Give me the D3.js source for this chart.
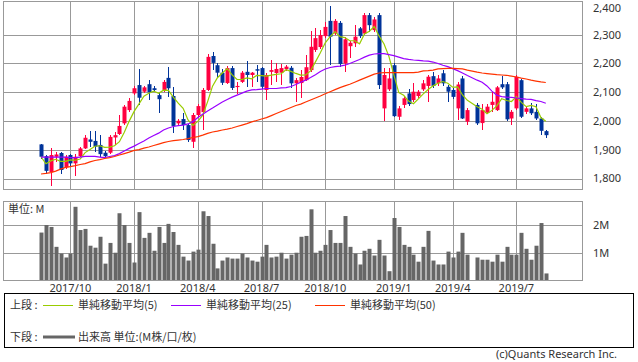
<!DOCTYPE html>
<html>
<head>
<meta charset="utf-8">
<script src="https://cdn.jsdelivr.net/npm/d3@7"></script>
<style>
body{margin:0;background:#fff;}
svg{display:block;}
text{font-family:"Noto Sans CJK JP","Noto Sans",sans-serif;font-size:11px;fill:#333;}
text.num{font-family:"Noto Sans","DejaVu Sans",sans-serif;}
</style>
</head>
<body>
<svg width="638" height="362"></svg>
<script>
// weekly bars, first week starts Monday 2017-08-21; null = week with no trading (GW 2019)
var firstWeek = "2017-08-21";

var opens = [1919,1878,1823,1876,1889,1839,1882,1853,1878,1905,1936,1931,1917,1890,1890,1943,1955,1992,2038,2096,
2125,2102,2128,2114,2090,2108,2150,2087,1992,2007,1986,1928,2021,2031,2108,2226,2194,2168,2132,2184,
2118,2136,2171,2160,2180,2184,2108,2171,2167,2168,2180,2185,2131,2132,2142,2177,2247,2257,2295,2348,
2304,2341,2200,2260,2270,2322,2304,2368,2316,2368,2044,2110,2194,2015,2056,2096,2073,2087,2110,2122,
2156,2131,2166,2119,2108,2044,2148,1998,null,2056,1993,2029,2056,2038,2128,2128,2009,2044,2142,2032,
2044,2032,2009,1965];
var highs = [1922,1882,1906,1892,1892,1882,1885,1885,1910,1951,1965,1965,1951,1896,1951,1963,2021,2056,2080,2122,
2181,2122,2142,2122,2101,2142,2187,2118,2007,2028,1990,2028,2059,2115,2233,2241,2201,2181,2191,2191,
2135,2174,2208,2171,2194,2187,2167,2212,2202,2198,2194,2191,2149,2177,2229,2314,2323,2316,2344,2399,
2354,2347,2293,2278,2333,2326,2375,2374,2361,2374,2184,2184,2201,2052,2087,2111,2132,2108,2142,2160,
2170,2160,2177,2125,2115,2135,2156,2045,null,2062,2059,2059,2101,2122,2156,2135,2038,2160,2146,2052,
2062,2059,2014,1969];
var lows = [1868,1816,1774,1858,1816,1833,1844,1809,1875,1903,1910,1892,1875,1875,1885,1917,1951,1986,2031,2090,
2056,2097,2073,2101,2028,2101,2083,1958,1986,1969,1927,1907,2014,1969,2104,2177,2153,2125,2128,2108,
2094,2132,2119,2119,2136,2111,2073,2125,2136,2125,2174,2114,2067,2080,2139,2171,2240,2250,2288,2194,
2299,2189,2171,2219,2258,2288,2299,2310,2309,2110,2001,2104,2014,2003,2045,2052,2066,2080,2104,2067,
2115,2122,2122,2067,2076,2003,2007,1986,null,1986,1969,2024,2031,2035,2111,2000,1986,2038,2010,2024,
2021,2003,1951,1940];
var closes = [1876,1827,1882,1884,1830,1876,1853,1876,1905,1942,1928,1911,1885,1878,1945,1951,1983,2050,2070,2114,
2081,2117,2100,2108,2076,2136,2114,1983,2001,1986,1934,2021,2052,2108,2223,2202,2168,2133,2184,2115,
2122,2168,2160,2168,2175,2119,2160,2177,2181,2184,2189,2131,2142,2153,2187,2258,2288,2299,2327,2293,
2348,2198,2284,2272,2293,2295,2368,2333,2353,2125,2160,2148,2017,2044,2079,2059,2102,2102,2131,2154,
2122,2148,2131,2102,2084,2127,2009,2038,null,1992,2038,2050,2067,2117,2117,2006,2032,2154,2015,2044,
2027,2009,1966,1951];
// 出来高 (M)
var volumes = [1.73,2.0,1.93,1.22,0.98,0.84,0.98,2.65,1.82,1.86,1.26,1.19,1.58,0.62,1.36,1.01,2.42,2.0,1.36,0.66,
2.46,1.54,1.72,1.08,1.93,1.36,2.04,1.75,1.29,0.87,0.73,1.05,1.12,2.49,2.32,1.33,0.45,0.73,0.84,0.8,
0.8,0.98,0.84,0.73,0.69,0.87,1.29,0.84,0.87,1.01,0.8,0.94,1.01,1.58,1.61,2.56,1.01,1.08,1.29,1.82,
1.36,1.36,2.32,1.22,0.98,0.59,1.08,1.15,0.91,1.47,0.91,0.35,2.25,1.93,1.29,1.22,0.94,0.69,1.22,1.79,
0.73,0.59,0.59,1.05,0.84,1.05,1.72,0.94,null,0.84,0.76,0.76,0.69,0.94,0.69,1.22,0.94,0.94,1.72,1.15,
0.76,1.26,2.07,0.27];
// moving averages as drawn (25 / 50 weeks include history before the first bar)
var ma25 = [1875,1875,1875,1875,1875,1875,1873,1873,1875,1877,1877,1877,1875,1873,1877,1880,1887,1896,1905,1913,
1922,1931,1941,1950,1958,1969,1976,1981,1984,1986,1990,1998,2012,2024,2035,2045,2056,2066,2075,2083,
2090,2097,2104,2108,2109,2111,2113,2113,2113,2115,2116,2120,2127,2135,2142,2151,2161,2172,2181,2186,
2189,2191,2194,2200,2207,2214,2222,2229,2233,2234,2234,2231,2227,2222,2217,2214,2212,2211,2209,2208,
2205,2200,2194,2189,2182,2175,2167,2158,null,2142,2135,2122,2104,2090,2085,2083,2082,2080,2078,2076,
2075,2071,2068,2062];
var ma50 = [1816,1818,1821,1826,1833,1839,1842,1845,1849,1852,1858,1863,1866,1870,1873,1877,1882,1887,1892,1898,
1901,1906,1910,1915,1920,1925,1929,1932,1934,1936,1939,1943,1946,1951,1957,1962,1965,1969,1972,1976,
1981,1986,1991,1997,2002,2007,2012,2019,2026,2033,2040,2047,2054,2059,2066,2073,2080,2087,2095,2102,
2109,2116,2122,2128,2135,2142,2149,2156,2163,2167,2168,2168,2168,2168,2168,2168,2168,2170,2174,2175,
2177,2181,2182,2183,2183,2182,2181,2177,null,2170,2167,2165,2163,2161,2160,2159,2156,2153,2149,2146,
2142,2139,2136,2134];

var priceTicks = [1800,1900,2000,2100,2200,2300,2400];
var volTicks = [1,2];
var monthTicks = ["2017-10","2018-01","2018-04","2018-07","2018-10","2019-01","2019-04","2019-07"];
var legendTop = ["単純移動平均(5)","単純移動平均(25)","単純移動平均(50)"];
var legendColors = ["#99cc00","#9900ff","#ff3300"];

var upColor = "#ff0040", downColor = "#003399", gridColor = "#999";

var parseDay = d3.timeParse("%Y-%m-%d");
var parseMonth = d3.timeParse("%Y-%m");
var start = parseDay(firstWeek);
var weeks = d3.timeMonday.range(start, d3.timeMonday.offset(start, closes.length));

var data = weeks.map(function(w, i){
	return {date:w, o:opens[i], h:highs[i], l:lows[i], c:closes[i], v:volumes[i], ma25:ma25[i], ma50:ma50[i]};
});
var valid = data.filter(function(d){ return d.c != null; });
// 単純移動平均(5) from the closes
valid.forEach(function(d, i){
	d.ma5 = d3.mean(valid.slice(Math.max(0, i - 4), i + 1), function(e){ return e.c; });
});

var x = d3.scaleTime()
	.domain([weeks[0], weeks[weeks.length - 1]])
	.range([41, 41 + 4.901 * (weeks.length - 1)]);
var y = d3.scaleLinear().domain([1764, 2417]).range([189, 1]);
var yv = d3.scaleLinear().domain([0, 2.85]).range([281, 201.2]);

var svg = d3.select("svg");
svg.append("rect").attr("width", 638).attr("height", 362).attr("fill", "#fff");

var monthDates = monthTicks.map(function(m){ return d3.timeMonday.ceil(parseMonth(m)); });
function px(v){ return Math.round(v) + 0.5; }

// ---- upper panel
var upper = svg.append("g");
upper.selectAll().data(priceTicks.filter(function(t){ return t < 2400; }))
	.enter().append("line")
	.attr("x1", 3.5).attr("x2", 582.5)
	.attr("y1", function(d){ return px(y(d)); }).attr("y2", function(d){ return px(y(d)); })
	.attr("stroke", gridColor);
upper.selectAll().data(monthDates)
	.enter().append("line")
	.attr("x1", function(d){ return px(x(d)); }).attr("x2", function(d){ return px(x(d)); })
	.attr("y1", 1.5).attr("y2", 189.5)
	.attr("stroke", gridColor);
upper.append("rect").attr("x", 3.5).attr("y", 1.5).attr("width", 579).attr("height", 188)
	.attr("fill", "none").attr("stroke", gridColor);
upper.selectAll().data(priceTicks)
	.enter().append("text")
	.attr("class", "num")
	.attr("x", 593).attr("y", function(d){ return Math.max(y(d), 8); })
	.attr("dy", "0.35em")
	.text(function(d){ return d3.format(",")(d); });

// candles
var candle = upper.selectAll().data(valid).enter().append("g")
	.attr("fill", function(d){ return d.c >= d.o ? upColor : downColor; })
	.attr("stroke", function(d){ return d.c >= d.o ? upColor : downColor; });
candle.append("line")
	.attr("x1", function(d){ return Math.round(x(d.date)) + 0.5; })
	.attr("x2", function(d){ return Math.round(x(d.date)) + 0.5; })
	.attr("y1", function(d){ return y(d.h); })
	.attr("y2", function(d){ return y(d.l); })
	.attr("shape-rendering", "crispEdges");
candle.append("rect")
	.attr("x", function(d){ return Math.round(x(d.date)) - 1.5; })
	.attr("width", 4)
	.attr("y", function(d){ return y(Math.max(d.o, d.c)); })
	.attr("height", function(d){ return Math.max(1, y(Math.min(d.o, d.c)) - y(Math.max(d.o, d.c))); })
	.attr("stroke", "none");

// moving averages
var keys = ["ma5", "ma25", "ma50"];
keys.forEach(function(k, i){
	var line = d3.line()
		.x(function(d){ return x(d.date); })
		.y(function(d){ return y(d[k]); });
	upper.append("path")
		.attr("d", line(valid))
		.attr("fill", "none")
		.attr("stroke", legendColors[i])
		.attr("stroke-width", 1.2);
});

// ---- volume panel
var lower = svg.append("g");
lower.selectAll().data(volTicks)
	.enter().append("line")
	.attr("x1", 3.5).attr("x2", 582.5)
	.attr("y1", function(d){ return px(yv(d)); }).attr("y2", function(d){ return px(yv(d)); })
	.attr("stroke", gridColor);
lower.selectAll().data(monthDates)
	.enter().append("line")
	.attr("x1", function(d){ return px(x(d)); }).attr("x2", function(d){ return px(x(d)); })
	.attr("y1", 201.5).attr("y2", 280.5)
	.attr("stroke", gridColor);
lower.selectAll().data(valid).enter().append("rect")
	.attr("x", function(d){ return Math.round(x(d.date)) - 1.5; })
	.attr("width", 4)
	.attr("y", function(d){ return yv(d.v); })
	.attr("height", function(d){ return yv(0) - yv(d.v); })
	.attr("fill", "#666");
lower.append("rect").attr("x", 3.5).attr("y", 201.5).attr("width", 579).attr("height", 79)
	.attr("fill", "none").attr("stroke", gridColor);
lower.selectAll().data(volTicks)
	.enter().append("text")
	.attr("class", "num")
	.attr("x", 593).attr("y", function(d){ return yv(d); })
	.attr("dy", "0.35em")
	.text(function(d){ return d + "M"; });
lower.append("text").attr("x", 8).attr("y", 209).attr("dy", "0.35em").attr("fill", "#222").text("単位: M");

// month labels
svg.selectAll().data(monthDates)
	.enter().append("text")
	.attr("class", "num")
	.attr("x", function(d){ return x(d); })
	.attr("y", 292)
	.attr("text-anchor", "middle")
	.text(function(d){ return d3.timeFormat("%Y/%-m")(d3.timeMonth(d)); });

// ---- legend
var legend = svg.append("g");
legend.append("rect").attr("x", 4.5).attr("y", 293.5).attr("width", 629).attr("height", 54)
	.attr("fill", "none").attr("stroke", "#000");
legend.append("text").attr("x", 10).attr("y", 305).attr("dy", "0.35em").text("上段 :");
var legendX = [43, 171, 315];
legendTop.forEach(function(t, i){
	legend.append("line")
		.attr("x1", legendX[i]).attr("x2", legendX[i] + 30)
		.attr("y1", 305.5).attr("y2", 305.5)
		.attr("stroke", legendColors[i]);
	legend.append("text").attr("x", legendX[i] + 35).attr("y", 305).attr("dy", "0.35em").text(t);
});
legend.append("text").attr("x", 10).attr("y", 337).attr("dy", "0.35em").text("下段 :");
legend.append("line").attr("x1", 43).attr("x2", 75).attr("y1", 337).attr("y2", 337)
	.attr("stroke", "#666").attr("stroke-width", 3);
legend.append("text").attr("x", 78).attr("y", 337).attr("dy", "0.35em").text("出来高 単位:(M株/口/枚)");

svg.append("text").attr("class", "num").attr("x", 617).attr("y", 354.5).attr("dy", "0.35em")
	.attr("text-anchor", "end").attr("fill", "#555")
	.text("(c)Quants Research Inc.");
</script>
</body>
</html>
